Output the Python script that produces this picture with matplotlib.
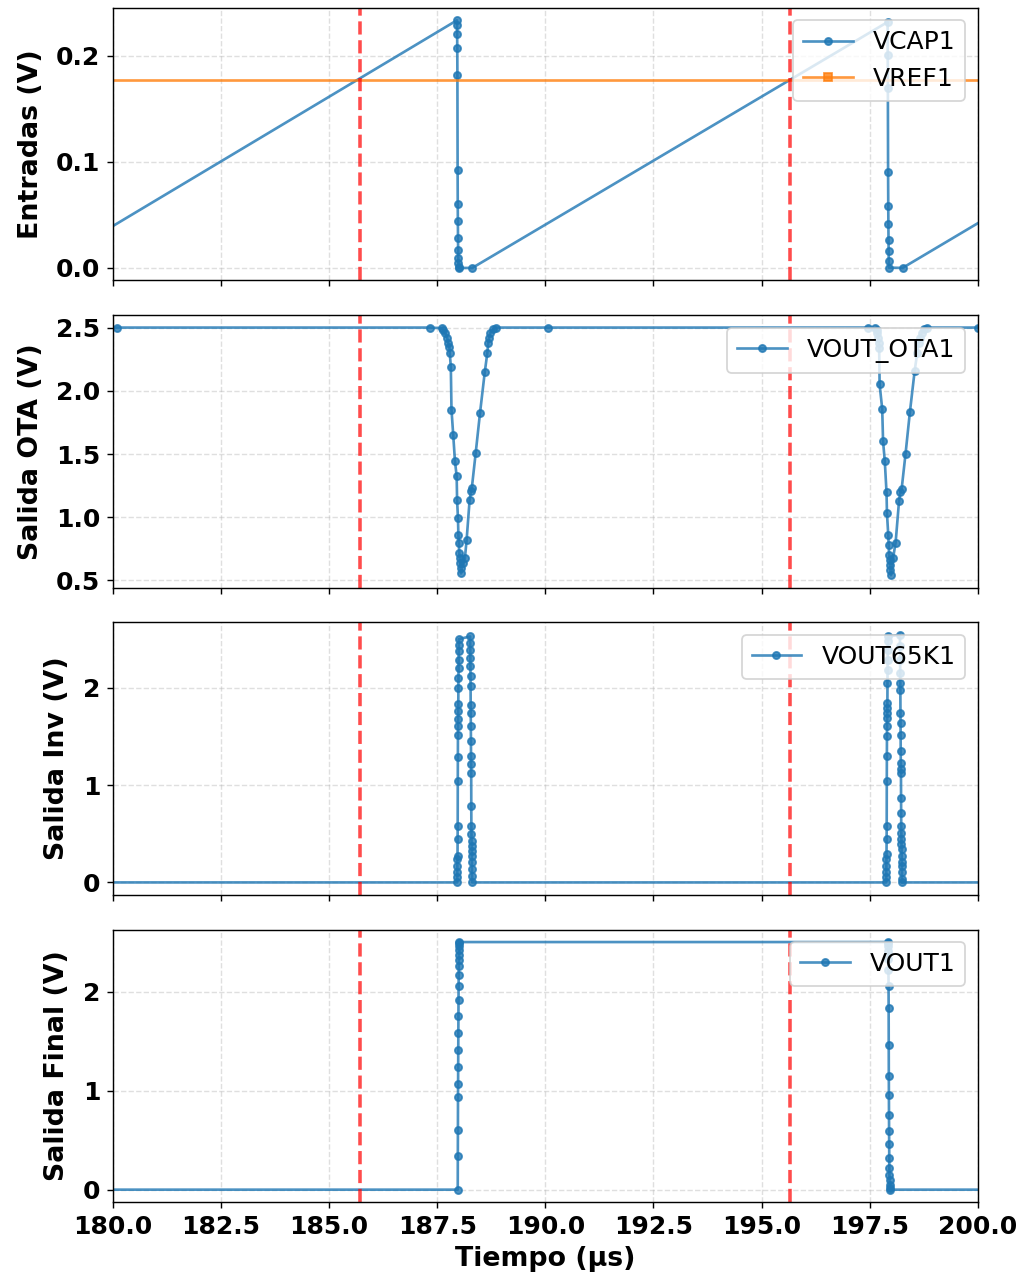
import matplotlib
matplotlib.use("Agg")
import matplotlib.pyplot as plt

t_cap = [178.38, 187.955, 187.958, 187.961, 187.964, 187.967, 187.972, 187.975,
         187.978, 187.981, 187.984, 187.987, 187.990, 187.993, 187.996, 188.31,
         197.915, 197.918, 197.921, 197.926, 197.930, 197.933, 197.936, 197.939,
         197.942, 197.945, 198.26, 207.9]
v_cap = [0.0, 0.2333, 0.2292, 0.2207, 0.2076, 0.1817, 0.0922, 0.0603,
         0.0438, 0.0284, 0.0169, 0.0091, 0.0044, 0.0009, 0.0, 0.0,
         0.2317, 0.2005, 0.1691, 0.0901, 0.0588, 0.0416, 0.0266, 0.0159,
         0.0066, 0.0003, 0.0, 0.2333]

t_ref = [178.0, 202.0]
v_ref = [0.1775, 0.1775]

t_ota = [178.4, 180.1, 187.33, 187.60, 187.64, 187.69, 187.73, 187.75, 187.78,
         187.79, 187.815, 187.83, 187.87, 187.91, 187.95, 187.96, 187.98,
         187.99, 188.00, 188.01, 188.02, 188.03, 188.04, 188.05, 188.09,
         188.14, 188.18, 188.25, 188.28, 188.30, 188.39, 188.49, 188.60,
         188.66, 188.68, 188.70, 188.73, 188.79, 188.87, 190.06,
         197.46, 197.63, 197.66, 197.68, 197.70, 197.71, 197.72, 197.73,
         197.79, 197.81, 197.85, 197.89, 197.90, 197.93, 197.94, 197.95,
         197.96, 197.97, 197.98, 197.99, 198.04, 198.10, 198.18, 198.21,
         198.24, 198.33, 198.43, 198.54, 198.60, 198.63, 198.66, 198.70,
         198.76, 198.83, 200.0]
v_ota = [2.5, 2.5, 2.5, 2.495, 2.481, 2.455, 2.421, 2.381, 2.347,
         2.302, 2.188, 1.852, 1.653, 1.447, 1.323, 1.138, 0.992,
         0.860, 0.794, 0.714, 0.675, 0.635, 0.595, 0.556, 0.635,
         0.675, 0.820, 1.138, 1.204, 1.230, 1.508, 1.825, 2.148,
         2.302, 2.381, 2.421, 2.460, 2.487, 2.5, 2.5,
         2.5, 2.495, 2.48, 2.455, 2.42, 2.38, 2.34, 2.050,
         1.857, 1.601, 1.442, 1.196, 1.032, 0.860, 0.780, 0.701,
         0.661, 0.622, 0.582, 0.542, 0.675, 0.799, 1.132, 1.196,
         1.225, 1.503, 1.831, 2.156, 2.30, 2.38, 2.42, 2.46,
         2.49, 2.5, 2.5]

t_inv = [178.4,
         187.960, 187.962, 187.964, 187.966, 187.968, 187.970, 187.972, 187.974,
         187.976, 187.978, 187.980, 187.982, 187.984, 187.986, 187.988, 187.990,
         187.992, 187.994, 187.996, 187.998, 188.000, 188.002,
         188.260, 188.262, 188.264, 188.266, 188.268, 188.270, 188.272, 188.274,
         188.276, 188.278, 188.280, 188.282, 188.284, 188.286, 188.288, 188.290,
         188.292, 188.294, 188.296, 188.298, 188.300, 188.302, 188.304, 188.306,
         188.308,
         197.880, 197.882, 197.884, 197.886, 197.888, 197.890, 197.892, 197.894,
         197.896, 197.898, 197.900, 197.902, 197.904, 197.906, 197.908, 197.910,
         197.912, 197.914, 197.916, 197.918, 197.920, 197.922,
         198.200, 198.202, 198.204, 198.206, 198.208, 198.210, 198.212, 198.214,
         198.216, 198.218, 198.220, 198.222, 198.224, 198.226, 198.228, 198.230,
         198.232, 198.234, 198.236, 198.238, 198.240, 198.242, 198.244, 198.246,
         198.248, 198.250, 202.0]
v_inv = [0.0,
         0.0, 0.051, 0.103, 0.171, 0.239, 0.274, 0.444, 0.581,
         1.043, 1.289, 1.521, 1.607, 1.682, 1.761, 1.839, 2.0,
         2.103, 2.205, 2.291, 2.376, 2.444, 2.503,
         2.53, 2.462, 2.393, 2.308, 2.222, 2.120, 2.017, 1.829,
         1.744, 1.607, 1.453, 1.299, 1.214, 1.128, 0.786, 0.581,
         0.496, 0.427, 0.376, 0.325, 0.274, 0.205, 0.137, 0.068,
         0.0,
         0.0, 0.051, 0.103, 0.171, 0.239, 0.291, 0.444, 0.581,
         1.043, 1.299, 1.504, 1.607, 1.692, 1.744, 1.795, 1.846,
         2.051, 2.188, 2.291, 2.393, 2.479, 2.53,
         2.547, 2.427, 2.291, 2.154, 2.051, 1.983, 1.744, 1.641,
         1.521, 1.350, 1.231, 1.162, 1.128, 0.872, 0.718, 0.581,
         0.513, 0.444, 0.393, 0.342, 0.274, 0.205, 0.171, 0.103,
         0.034, 0.0, 0.0]

t_out = [178.4,
         187.975, 187.977, 187.979, 187.981, 187.983, 187.985, 187.987, 187.989,
         187.991, 187.993, 187.995, 187.997, 187.999, 188.001, 188.003, 188.005,
         188.007, 188.009, 188.011,
         197.925, 197.927, 197.929, 197.931, 197.933, 197.935, 197.937, 197.939,
         197.941, 197.943, 197.945, 197.947, 197.949, 197.951, 197.953, 197.955,
         197.957, 197.959, 197.961, 197.963, 197.965, 202.0]
v_out = [0.0,
         0.0, 0.339, 0.600, 0.932, 1.068, 1.237, 1.407, 1.583,
         1.753, 1.915, 2.058, 2.169, 2.261, 2.322, 2.373, 2.424,
         2.464, 2.492, 2.5,
         2.5, 2.49, 2.46, 2.41, 2.33, 2.22, 2.06, 1.83,
         1.464, 1.146, 0.956, 0.753, 0.593, 0.458, 0.322, 0.220,
         0.153, 0.102, 0.051, 0.017, 0.0, 0.0]

t_cruce = [185.72, 195.65]

series = [
    ("Entradas (V)", [(t_cap, v_cap, "VCAP1", "#1f77b4", "o"), (t_ref, v_ref, "VREF1", "#ff7f0e", "s")]),
    ("Salida OTA (V)", [(t_ota, v_ota, "VOUT_OTA1", "#1f77b4", "o")]),
    ("Salida Inv (V)", [(t_inv, v_inv, "VOUT65K1", "#1f77b4", "o")]),
    ("Salida Final (V)", [(t_out, v_out, "VOUT1", "#1f77b4", "o")]),
]

fig, axes = plt.subplots(4, 1, figsize=(8, 10.0039), dpi=128.25, sharex=True)
fig.subplots_adjust(left=0.110, right=0.953, top=0.9938, bottom=0.0631, hspace=0.128)

for ax, (ylabel, curvas) in zip(axes, series):
    for t, v, nombre, color, mk in curvas:
        ax.plot(t, v, marker=mk, markersize=4, linewidth=1.5, color=color,
                alpha=0.8, label=nombre)
    for tc in t_cruce:
        ax.axvline(tc, color="red", linestyle="--", linewidth=2, alpha=0.7)
    ax.grid(True, linestyle="--", alpha=0.4)
    ax.set_ylabel(ylabel, fontsize=15, fontweight="bold", labelpad=7)
    ax.legend(loc="upper right", fontsize=14)
    ax.tick_params(labelsize=14)
    for lbl in ax.get_yticklabels() + ax.get_xticklabels():
        lbl.set_fontweight("bold")

axes[-1].set_xlim(180, 200)
axes[-1].set_xlabel("Tiempo (µs)", fontsize=15, fontweight="bold")
for lbl in axes[-1].get_xticklabels():
    lbl.set_fontweight("bold")

fig.savefig("out.png", dpi=128.25)
